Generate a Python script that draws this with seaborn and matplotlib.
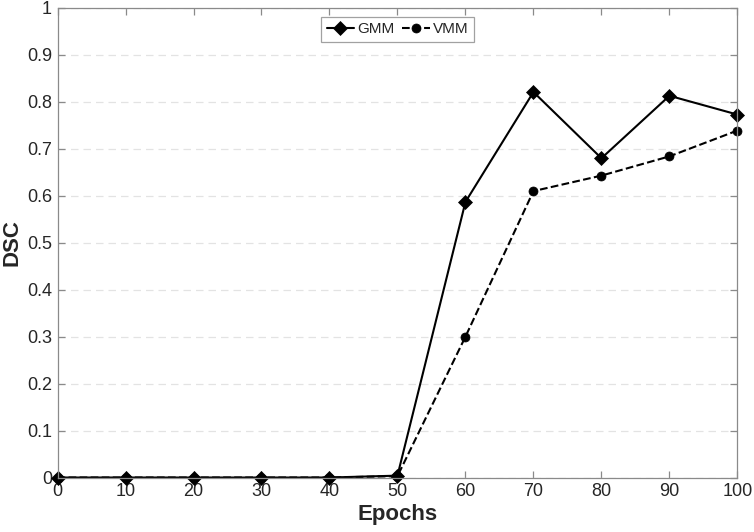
import numpy as np
import pandas as pd
import matplotlib
matplotlib.use('Agg')
import matplotlib.pyplot as plt
import seaborn as sns

# values
epochs = [0, 10, 20, 30, 40, 50, 60, 70, 80, 90, 100]
gmm = [0, 0, 0, 0, 0, 0.004, 0.587, 0.821, 0.680, 0.813, 0.773]
vmm = [0, 0, 0, 0, 0, 0.003, 0.300, 0.610, 0.643, 0.684, 0.739]

sns.set_style('white')
plt.rcParams['font.family'] = ['Liberation Sans', 'DejaVu Sans']

fig = plt.figure(figsize=(7.54, 5.32), dpi=100)
ax = fig.add_axes([0.0763, 0.1024, 0.9017, 0.8826])

sns.lineplot(x=epochs, y=gmm, ax=ax, color='black', linewidth=1.5,
             marker='D', markersize=7, markeredgecolor='black',
             markeredgewidth=0.5, linestyle='-', label='GMM')
sns.lineplot(x=epochs, y=vmm, ax=ax, color='black', linewidth=1.5,
             marker='o', markersize=6.5, markeredgecolor='black',
             markeredgewidth=0.5, linestyle='--', label='VMM')

ax.set_xlim(0, 100)
ax.set_ylim(0, 1)
ax.set_xticks(np.arange(0, 101, 10))
ax.set_yticks(np.arange(0, 1.01, 0.1))
ax.set_yticklabels(['0', '0.1', '0.2', '0.3', '0.4', '0.5', '0.6', '0.7', '0.8', '0.9', '1'])

# MATLAB-like box and grid
for s in ax.spines.values():
    s.set_visible(True)
    s.set_color('#8a8a8a')
    s.set_linewidth(0.9)
ax.tick_params(direction='in', length=5, width=0.9, color='#8a8a8a',
               labelsize=13, labelcolor='#262626', top=True, right=True,
               bottom=True, left=True, pad=4)
ax.yaxis.grid(True, linestyle=(0, (6, 4)), color='#e3e3e3', linewidth=0.9)
ax.xaxis.grid(False)
ax.set_axisbelow(True)

ax.set_xlabel('Epochs', fontsize=16, fontweight='bold', color='#262626', labelpad=3)
ax.set_ylabel('DSC', fontsize=16, fontweight='bold', color='#262626', labelpad=3)

leg = ax.legend(loc='upper center', bbox_to_anchor=(0.5, 1.0), ncol=2,
                fontsize=11, frameon=True, fancybox=False, handlelength=1.8,
                columnspacing=0.5, handletextpad=0.2, borderpad=0.35,
                borderaxespad=0.6)
leg.get_frame().set_edgecolor('#8a8a8a')
leg.get_frame().set_linewidth(0.9)

for line in ax.get_lines():
    line.set_clip_on(False)

fig.savefig('out.png', dpi=100)
